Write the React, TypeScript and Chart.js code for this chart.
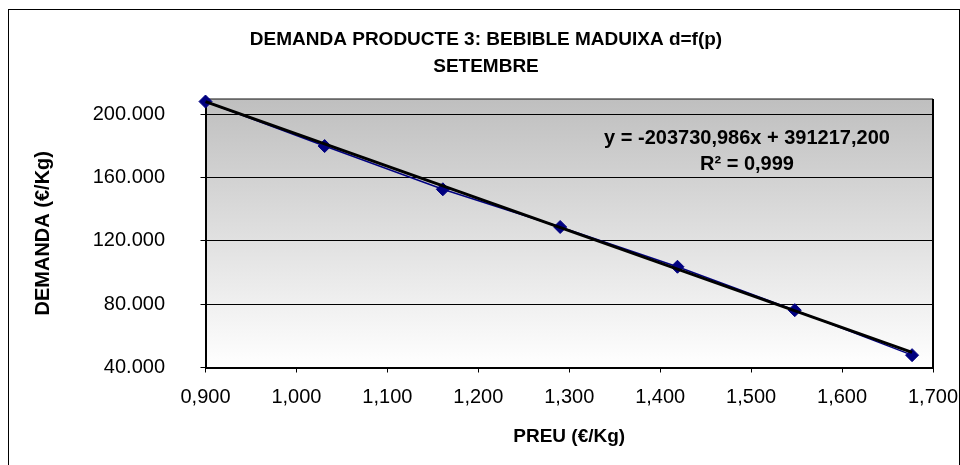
import React, { useEffect, useRef } from 'react';
import { Chart, registerables } from 'chart.js';

Chart.register(...registerables);

const TITLE_LINES = ['DEMANDA PRODUCTE 3: BEBIBLE MADUIXA d=f(p)', 'SETEMBRE'];
const X_TITLE = 'PREU (€/Kg)';
const Y_TITLE = 'DEMANDA (€/Kg)';

const PRICES = [0.9, 1.031, 1.161, 1.29, 1.419, 1.548, 1.677];
const DEMAND = [207900, 179800, 152500, 128700, 103600, 76200, 47800];

const TREND_SLOPE = -203730.986;
const TREND_INTERCEPT = 391217.2;
const EQUATION_LINES = ['y = -203730,986x + 391217,200', 'R² = 0,999'];

const X_TICKS = [0.9, 1.0, 1.1, 1.2, 1.3, 1.4, 1.5, 1.6, 1.7];
const Y_TICKS = [40000, 80000, 120000, 160000, 200000];
const X_MIN = 0.9;
const X_MAX = 1.7;
const Y_MIN = 40000;
const Y_MAX = 209500;

const FAMILY = '"Liberation Sans", Arial, Helvetica, sans-serif';

const decorPlugin = {
  id: 'decor',
  beforeDraw(chart: any) {
    const { ctx, chartArea: a } = chart;
    ctx.save();
    const g = ctx.createLinearGradient(0, a.top, 0, a.bottom);
    g.addColorStop(0, '#bfbfbf');
    g.addColorStop(1, '#ffffff');
    ctx.fillStyle = g;
    ctx.fillRect(a.left, a.top, a.right - a.left, a.bottom - a.top);
    ctx.restore();
  },
  beforeDatasetsDraw(chart: any) {
    const { ctx, chartArea: a } = chart;
    ctx.save();
    ctx.strokeStyle = '#111';
    ctx.lineWidth = 1.2;
    ctx.beginPath();
    ctx.moveTo(a.left, a.top);
    ctx.lineTo(a.right, a.top);
    ctx.stroke();
    ctx.lineWidth = 2;
    ctx.strokeStyle = '#000';
    ctx.beginPath();
    ctx.moveTo(a.right, a.top);
    ctx.lineTo(a.right, a.bottom);
    ctx.stroke();
    ctx.restore();
  },
  afterDraw(chart: any) {
    const { ctx } = chart;
    ctx.save();
    // outer frame
    ctx.strokeStyle = '#000';
    ctx.lineWidth = 1;
    ctx.strokeRect(8.5, 9.5, 951, 470);
    // title
    ctx.fillStyle = '#000';
    ctx.textAlign = 'center';
    ctx.textBaseline = 'middle';
    ctx.font = `bold 19px ${FAMILY}`;
    ctx.fillText(TITLE_LINES[0], 486, 40);
    ctx.fillText(TITLE_LINES[1], 486, 67);
    // trendline equation
    ctx.font = `bold 20px ${FAMILY}`;
    ctx.fillText(EQUATION_LINES[0], 747, 138);
    ctx.fillText(EQUATION_LINES[1], 747, 164);
    ctx.restore();
  },
};

export default function App() {
  const ref = useRef<HTMLCanvasElement>(null);

  useEffect(() => {
    document.body.style.margin = '0';
    const first = PRICES[0];
    const last = PRICES[PRICES.length - 1];
    const chart = new Chart(ref.current as HTMLCanvasElement, {
      type: 'line',
      data: {
        datasets: [
          {
            label: 'Tendència',
            data: [
              { x: first, y: TREND_SLOPE * first + TREND_INTERCEPT },
              { x: last, y: TREND_SLOPE * last + TREND_INTERCEPT },
            ],
            borderColor: '#000',
            borderWidth: 3,
            pointRadius: 0,
            tension: 0,
            order: 0,
            clip: false,
          } as any,
          {
            label: 'Demanda',
            data: PRICES.map((x, i) => ({ x, y: DEMAND[i] })),
            borderColor: '#000080',
            borderWidth: 1.5,
            pointStyle: 'rectRot',
            pointRadius: 6.5,
            pointBackgroundColor: '#000080',
            pointBorderColor: '#000080',
            pointBorderWidth: 1,
            tension: 0,
            order: 1,
            clip: false,
          } as any,
        ],
      },
      options: {
        animation: false,
        responsive: false,
        devicePixelRatio: 1,
        events: [],
        layout: { padding: { top: 99, right: 27, bottom: 0, left: 0 } },
        plugins: {
          legend: { display: false },
          tooltip: { enabled: false },
          title: { display: false },
        },
        scales: {
          x: {
            type: 'linear',
            min: X_MIN,
            max: X_MAX,
            bounds: 'data',
            afterBuildTicks: (s: any) => {
              s.ticks = X_TICKS.map((value) => ({ value }));
            },
            afterFit: (s: any) => {
              s.height = 97.5;
              s.paddingLeft = 0;
              s.paddingRight = 0;
            },
            ticks: {
              color: '#000',
              padding: 12.5,
              maxRotation: 0,
              autoSkip: false,
              font: { family: FAMILY, size: 20 },
              callback: (v: any) => Number(v).toFixed(3).replace('.', ','),
            },
            grid: { drawOnChartArea: false, drawTicks: true, tickLength: 5, color: '#000', lineWidth: 1 },
            border: { display: true, color: '#000', width: 2 },
            title: {
              display: true,
              text: X_TITLE,
              color: '#000',
              font: { family: FAMILY, size: 19, weight: 'bold' },
              padding: { top: 0, bottom: 16.6 },
            },
          },
          y: {
            type: 'linear',
            min: Y_MIN,
            max: Y_MAX,
            bounds: 'data',
            afterBuildTicks: (s: any) => {
              s.ticks = Y_TICKS.map((value) => ({ value }));
            },
            afterFit: (s: any) => {
              s.width = 205.5;
              s.paddingTop = 0;
              s.paddingBottom = 0;
            },
            ticks: {
              color: '#000',
              padding: 35.5,
              autoSkip: false,
              font: { family: FAMILY, size: 20 },
              callback: (v: any) => (Number(v) / 1000).toFixed(3),
            },
            grid: { color: '#000', lineWidth: 1, tickLength: 5, drawTicks: true },
            border: { display: true, color: '#000', width: 2 },
            title: {
              display: true,
              text: Y_TITLE,
              color: '#000',
              font: { family: FAMILY, size: 20, weight: 'bold' },
              padding: { top: 31.3, bottom: 0 },
            },
          },
        },
      } as any,
      plugins: [decorPlugin],
    });
    return () => chart.destroy();
  }, []);

  return (
    <div style={{ width: 960, height: 465 }}>
      <canvas ref={ref} width={960} height={465} style={{ display: 'block', width: 960, height: 465 }} />
    </div>
  );
}
